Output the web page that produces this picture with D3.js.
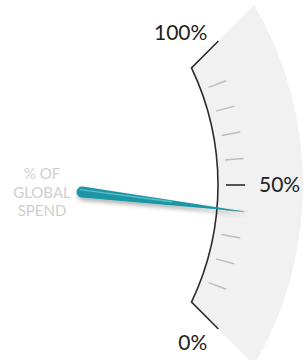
<!DOCTYPE html>
<html>
<head>
<meta charset="utf-8">
<script src="https://cdn.jsdelivr.net/npm/d3@7"></script>
<style>
  body { margin: 0; background: #fff; }
  svg { display: block; font-family: Lato, "Open Sans", sans-serif; }
</style>
</head>
<body>
<div id="chart"></div>
<script>
// gauge data
const minorTicks = [10, 20, 30, 40, 60, 70, 80, 90];
const majorTicks = [50];
const labelValues = [0, 50, 100];
const scaleLabels = ["0%", "50%", "100%"];
const needleValue = 40;
const captionLines = ["% OF", "GLOBAL", "SPEND"];

const width = 304, height = 360;
const cx = -54, cy = 185;      // gauge centre (off canvas)
const R = 272, Rout = 357;     // inner rim and outer edge of grey band
const capLen = 38;

const svg = d3.select("#chart").append("svg")
  .attr("width", width)
  .attr("height", height);

// value -> degrees (0 at bottom, 100 at top)
const angle = d3.scaleLinear().domain([0, 100]).range([25.5, -25.5]);

function pt(v, r) {
  const a = angle(v) * Math.PI / 180;
  return [cx + r * Math.cos(a), cy + r * Math.sin(a)];
}

// where a 45deg line from a rim corner meets the outer circle
function toOuter(p, dir) {
  const dx = p[0] - cx, dy = p[1] - cy;
  const b = dx * dir[0] + dy * dir[1];
  const c = dx * dx + dy * dy - Rout * Rout;
  const t = -b + Math.sqrt(b * b - c);
  return [p[0] + t * dir[0], p[1] + t * dir[1]];
}

const s2 = Math.SQRT1_2;
const rimTop = pt(100, R), rimBot = pt(0, R);
const upDir = [s2, -s2], downDir = [s2, s2];
const topOut = toOuter(rimTop, upDir), botOut = toOuter(rimBot, downDir);

// grey band
svg.append("path")
  .attr("d", `M${rimTop}L${topOut}A${Rout},${Rout} 0 0 1 ${botOut}L${rimBot}A${R},${R} 0 0 0 ${rimTop}Z`)
  .attr("fill", "#f1f1f1");

// rim line with end caps
const capTop = [rimTop[0] + capLen * upDir[0], rimTop[1] + capLen * upDir[1]];
const capBot = [rimBot[0] + capLen * downDir[0], rimBot[1] + capLen * downDir[1]];
svg.append("path")
  .attr("d", `M${capTop}L${rimTop}A${R},${R} 0 0 1 ${rimBot}L${capBot}`)
  .attr("fill", "none")
  .attr("stroke", "#2b2b2b")
  .attr("stroke-width", 1.6);

// ticks
svg.append("g").selectAll("line")
  .data(minorTicks)
  .enter().append("line")
  .attr("x1", d => pt(d, R + 8)[0])
  .attr("y1", d => pt(d, R + 8)[1])
  .attr("x2", d => pt(d, R + 27)[0])
  .attr("y2", d => pt(d, R + 27)[1])
  .attr("stroke", "#bdbdbd")
  .attr("stroke-width", 1.5);

svg.append("g").selectAll("line")
  .data(majorTicks)
  .enter().append("line")
  .attr("x1", d => pt(d, R + 8)[0])
  .attr("y1", d => pt(d, R + 8)[1])
  .attr("x2", d => pt(d, R + 27)[0])
  .attr("y2", d => pt(d, R + 27)[1])
  .attr("stroke", "#2b2b2b")
  .attr("stroke-width", 1.6);

// scale labels
const labelPos = {
  0: { x: capBot[0] - 11, y: capBot[1] + 21, anchor: "end" },
  50: { x: pt(50, R + 27)[0] + 14, y: pt(50, R + 27)[1] + 7, anchor: "start" },
  100: { x: capTop[0] - 11, y: capTop[1] - 1, anchor: "end" }
};
svg.append("g").selectAll("text")
  .data(labelValues)
  .enter().append("text")
  .attr("x", d => labelPos[d].x)
  .attr("y", d => labelPos[d].y)
  .attr("text-anchor", d => labelPos[d].anchor)
  .attr("font-size", 21)
  .attr("fill", "#222")
  .text((d, i) => scaleLabels[i]);

// caption
svg.append("g").selectAll("text")
  .data(captionLines)
  .enter().append("text")
  .attr("x", 42)
  .attr("y", (d, i) => 179 + i * 18.5)
  .attr("text-anchor", "middle")
  .attr("font-size", 15)
  .attr("fill", "#cfcfcf")
  .text(d => d);

// needle
const defs = svg.append("defs");
const f = defs.append("filter").attr("id", "shadow")
  .attr("x", "-20%").attr("y", "-100%").attr("width", "140%").attr("height", "300%");
f.append("feDropShadow")
  .attr("dx", 1).attr("dy", 3)
  .attr("stdDeviation", 2)
  .attr("flood-color", "#000")
  .attr("flood-opacity", 0.3);

const pivot = [82, 192];
const tip = pt(needleValue, R + 31);
const len = Math.hypot(tip[0] - pivot[0], tip[1] - pivot[1]);
const u = [(tip[0] - pivot[0]) / len, (tip[1] - pivot[1]) / len];
const n = [u[1], -u[0]];   // upward normal
const br = 5.5;
const needle = svg.append("g").attr("filter", "url(#shadow)");
needle.append("path")
  .attr("d", `M${pivot[0] + n[0] * br},${pivot[1] + n[1] * br}` +
    `L${tip}` +
    `L${pivot[0] - n[0] * br},${pivot[1] - n[1] * br}` +
    `A${br},${br} 0 1 1 ${pivot[0] + n[0] * br},${pivot[1] + n[1] * br}Z`)
  .attr("fill", "#1b96a5");

needle.append("line")
  .attr("x1", pivot[0] - u[0] * 2 + n[0] * 2.2)
  .attr("y1", pivot[1] - u[1] * 2 + n[1] * 2.2)
  .attr("x2", pivot[0] + u[0] * 90 + n[0] * 1)
  .attr("y2", pivot[1] + u[1] * 90 + n[1] * 1)
  .attr("stroke", "#6ec7d1")
  .attr("stroke-width", 1.4)
  .attr("stroke-linecap", "round")
  .attr("opacity", 0.8);
</script>
</body>
</html>
